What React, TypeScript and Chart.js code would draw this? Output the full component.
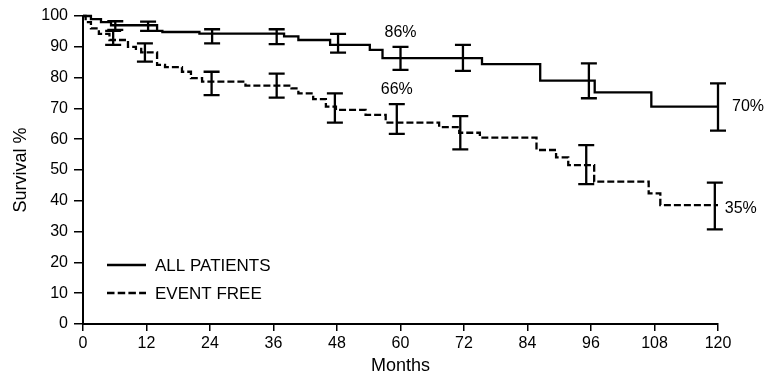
import React, { useEffect, useRef } from "react";
import { Chart, registerables } from "chart.js";

Chart.register(...registerables);

// Kaplan-Meier step points: month of drop, survival after the drop
const allMonths = [0, 1.5, 3.4, 5.3, 14, 15, 22, 38, 40.7, 46.7, 54.2, 56.6, 75.4, 86.4, 96.7, 107.4, 120];
const allSurvival = [100, 99, 98, 97, 95.2, 94.8, 94.3, 93.4, 92.2, 90.6, 89, 86.3, 84.4, 79, 75.2, 70.6, 70.6];

const efMonths = [0, 0.5, 1.5, 3, 5, 8.5, 10, 11, 14, 15.5, 18.7, 20.4, 22.5, 30.7, 39.4, 40.7, 43.5, 45.9, 47.8, 53.4, 57.2, 67.3, 71.1, 75, 85.7, 89.4, 91.7, 96.6, 106.9, 109.1, 120];
const efSurvival = [100, 98, 96, 94.2, 92.2, 90, 89.3, 88.2, 84.1, 83.4, 81.9, 79.8, 78.7, 77.4, 76.5, 74.9, 73, 70.6, 69.5, 67.9, 65.4, 63.9, 62.1, 60.5, 56.5, 54.1, 51.6, 46.2, 42.4, 38.6, 38.6];

// Confidence interval bars
const allErrMonths = [6.1, 12.3, 24.4, 36.6, 48.2, 60, 71.8, 95.6, 120];
const allHigh = [98.3, 98.2, 95.7, 95.7, 94.2, 90.0, 90.6, 84.6, 78.1];
const allLow = [95.5, 95.2, 91.1, 90.9, 88.1, 82.5, 82.2, 73.3, 62.8];

const efErrMonths = [5.7, 11.7, 24.3, 36.6, 47.6, 59.3, 71.3, 95.1, 119.4];
const efHigh = [95.2, 91.1, 81.9, 81.3, 74.9, 71.4, 67.5, 58.1, 45.9];
const efLow = [90.6, 85.2, 74.3, 73.5, 65.4, 61.7, 56.7, 45.4, 30.7];

const legendLabels = ["ALL PATIENTS", "EVENT FREE"];
const pctLabels = ["86%", "66%", "70%", "35%"];

const FONT = "'Liberation Sans', Arial, Helvetica, sans-serif";
const DASH = [7, 3];

const toPoints = (xs: number[], ys: number[]) => xs.map((x, i) => ({ x, y: ys[i] }));

const overlayPlugin = {
  id: "overlay",
  afterDatasetsDraw(chart: any) {
    const { ctx, scales } = chart;
    const x = scales.x;
    const y = scales.y;
    ctx.save();
    ctx.strokeStyle = "#000";
    ctx.fillStyle = "#000";
    ctx.lineWidth = 2.3;
    ctx.setLineDash([]);
    const cap = 8;
    const drawBars = (months: number[], lo: number[], hi: number[]) => {
      months.forEach((m, i) => {
        const px = x.getPixelForValue(m);
        const pl = y.getPixelForValue(lo[i]);
        const ph = y.getPixelForValue(hi[i]);
        ctx.beginPath();
        ctx.moveTo(px, pl);
        ctx.lineTo(px, ph);
        ctx.moveTo(px - cap, pl);
        ctx.lineTo(px + cap, pl);
        ctx.moveTo(px - cap, ph);
        ctx.lineTo(px + cap, ph);
        ctx.stroke();
      });
    };
    drawBars(allErrMonths, allLow, allHigh);
    drawBars(efErrMonths, efLow, efHigh);

    // percentage labels
    ctx.font = `16px ${FONT}`;
    ctx.textBaseline = "middle";
    ctx.textAlign = "center";
    ctx.fillText(pctLabels[0], x.getPixelForValue(allErrMonths[5]), y.getPixelForValue(allHigh[5]) - 14);
    ctx.fillText(pctLabels[1], x.getPixelForValue(efErrMonths[5]), y.getPixelForValue(efHigh[5]) - 14);
    ctx.textAlign = "left";
    const lastA = allSurvival[allSurvival.length - 1];
    const lastE = efSurvival[efSurvival.length - 1];
    ctx.fillText(pctLabels[2], x.getPixelForValue(allErrMonths[8]) + 14, y.getPixelForValue(lastA));
    ctx.fillText(pctLabels[3], x.getPixelForValue(efErrMonths[8]) + 10, y.getPixelForValue(lastE) + 3);

    // legend
    const lx0 = 107, lx1 = 146, tx = 155;
    const rows = [265, 293];
    ctx.lineWidth = 2.3;
    rows.forEach((ry, i) => {
      ctx.setLineDash(i === 0 ? [] : [7.5, 3.2]);
      ctx.beginPath();
      ctx.moveTo(lx0, ry);
      ctx.lineTo(lx1, ry);
      ctx.stroke();
    });
    ctx.setLineDash([]);
    ctx.font = `17px ${FONT}`;
    ctx.textAlign = "left";
    rows.forEach((ry, i) => ctx.fillText(legendLabels[i], tx, ry + 1));
    ctx.restore();
  },
};

export default function App() {
  const ref = useRef<HTMLCanvasElement>(null);
  useEffect(() => {
    document.body.style.margin = "0";
    const chart = new Chart(ref.current as HTMLCanvasElement, {
      type: "line",
      data: {
        datasets: [
          {
            label: legendLabels[0],
            data: toPoints(allMonths, allSurvival),
            stepped: "before",
            borderColor: "#000",
            borderWidth: 2.3,
            pointRadius: 0,
            fill: false,
            clip: false as any,
          },
          {
            label: legendLabels[1],
            data: toPoints(efMonths, efSurvival),
            stepped: "before",
            borderColor: "#000",
            borderWidth: 2.3,
            borderDash: DASH,
            pointRadius: 0,
            fill: false,
            clip: false as any,
          },
        ],
      },
      options: {
        animation: false,
        responsive: true,
        maintainAspectRatio: false,
        layout: { padding: { top: 16, right: 48, left: 0, bottom: 0 } },
        plugins: { legend: { display: false }, tooltip: { enabled: false } },
        scales: {
          x: {
            type: "linear",
            min: 0,
            max: 120,
            afterFit: (s: any) => {
              s.height = 51;
            },
            ticks: { stepSize: 12, color: "#000", font: { family: FONT, size: 16 }, padding: 3, maxRotation: 0 },
            grid: { drawOnChartArea: false, drawTicks: true, tickLength: 7, color: "#000", lineWidth: 1.5 },
            border: { display: true, color: "#000", width: 2 },
            title: {
              display: true,
              text: "Months",
              color: "#000",
              font: { family: FONT, size: 18, lineHeight: 1 },
              padding: { top: 0, bottom: 0 },
            },
          },
          y: {
            type: "linear",
            min: 0,
            max: 100,
            afterFit: (s: any) => {
              s.width = 83;
            },
            ticks: { stepSize: 10, color: "#000", font: { family: FONT, size: 16 }, padding: 6 },
            grid: { drawOnChartArea: false, drawTicks: true, tickLength: 9, color: "#000", lineWidth: 1.5 },
            border: { display: true, color: "#000", width: 2 },
            title: {
              display: true,
              text: "Survival %",
              color: "#000",
              font: { family: FONT, size: 18, lineHeight: 1 },
              padding: { top: 12, bottom: 0 },
            },
          },
        },
      },
      plugins: [overlayPlugin],
    } as any);
    return () => chart.destroy();
  }, []);
  return (
    <div style={{ position: "relative", width: 766, height: 375 }}>
      <canvas ref={ref} />
    </div>
  );
}
